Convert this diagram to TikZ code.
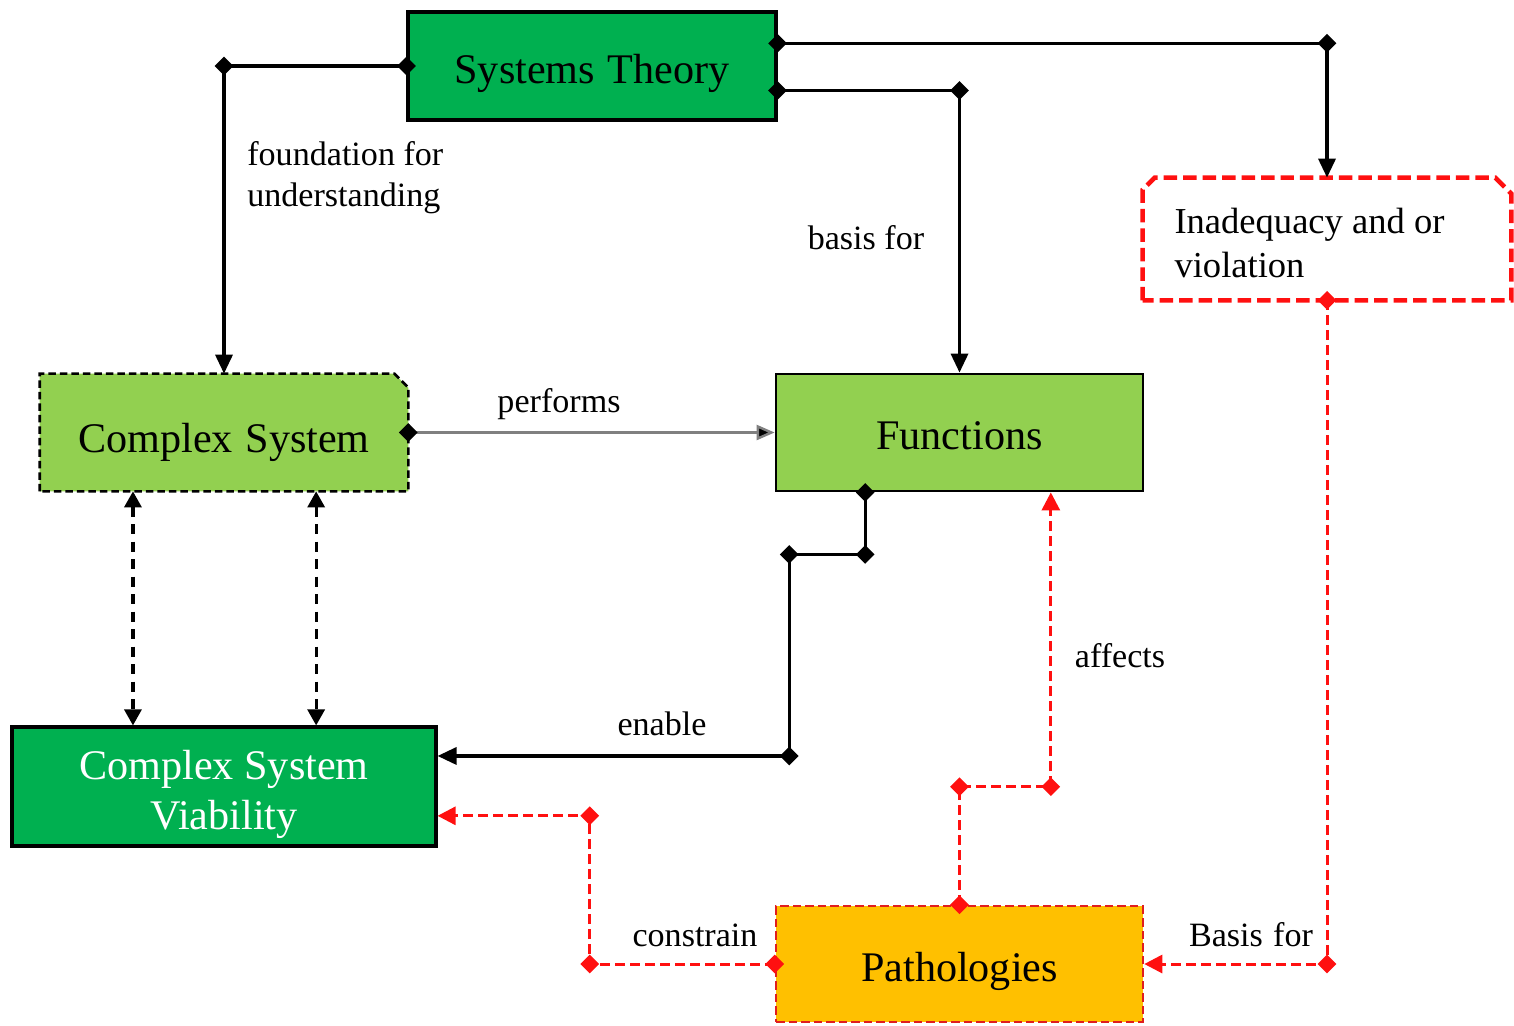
\documentclass[tikz,border=0pt]{standalone}
\usepackage{fontspec}
\setmainfont{Liberation Serif}
\usetikzlibrary{arrows.meta,shapes.geometric,calc,backgrounds}

\definecolor{deepgreen}{HTML}{00B050}
\definecolor{leafgreen}{HTML}{92D050}
\definecolor{amber}{HTML}{FFC000}
\definecolor{linkred}{HTML}{FF1010}
\definecolor{edgered}{HTML}{E01E1E}

\newcommand{\boxfont}{\fontsize{24}{28.5}\selectfont}
\newcommand{\notefont}{\fontsize{20.8}{25.6}\selectfont}
\newcommand{\labfont}{\fontsize{19.4}{23.3}\selectfont}
% lower a box's text without changing its extent
\newcommand{\lowered}[2]{\raisebox{-#1}[\height][\depth]{#2}}
\newcommand{\wsp}{\hspace{0.3em}}

\begin{document}
\begin{tikzpicture}[x=0.02cm,y=-0.02cm,
  box/.style={rectangle, inner sep=0, font=\boxfont},
  knot/.style={diamond, fill=black, draw=none, inner sep=0, minimum size=0.38cm},
  rknot/.style={knot, fill=linkred},
  link/.style={line width=1.9pt, -{Triangle[length=0.38cm,width=0.34cm]}},
  thinlink/.style={line width=1.4pt, draw=black!50, -{Triangle[length=0.36cm,width=0.3cm,fill=black]}},
  twoway/.style={line width=1.8pt, dash pattern=on 0.2cm off 0.15cm,
    {Triangle[length=0.32cm,width=0.34cm]}-{Triangle[length=0.32cm,width=0.34cm]}},
  redlink/.style={line width=1.7pt, draw=linkred, dash pattern=on 0.2cm off 0.1cm,
    -{Triangle[length=0.36cm,width=0.36cm,fill=linkred]}},
  lab/.style={font=\labfont, inner sep=0}
]
\useasboundingbox (0,0) rectangle (1514,1025);

% boxes
\node[box, fill=deepgreen, draw=black, line width=1.8pt,
      minimum width=7.36cm, minimum height=2.16cm] (st) at (592,66)
      {\lowered{0.15cm}{Systems\wsp Theory}};
\node[box, minimum width=7.36cm, minimum height=2.34cm] (cs) at (224,432.5)
      {\lowered{0.2cm}{Complex\wsp System}};
\node[box, fill=leafgreen, draw=black, line width=1.6pt,
      minimum width=7.34cm, minimum height=2.34cm] (fn) at (959.5,432.5)
      {\lowered{0.06cm}{Functions}};
\node[box, fill=deepgreen, draw=black, line width=1.8pt, text=white,
      minimum width=8.48cm, minimum height=2.38cm] (csv) at (224,786.5)
      {\lowered{0.16cm}{\begin{tabular}{@{}c@{}}Complex System\\Viability\end{tabular}}};
\node[box, font=\notefont,
      minimum width=7.36cm, minimum height=2.44cm] (inad) at (1327,239)
      {\lowered{0.08cm}{\parbox{6.1cm}{\raggedright Inadequacy and or\\violation}}};
\node[box, fill=amber, draw=edgered, line width=1.5pt, dash pattern=on 0.17cm off 0.08cm,
      minimum width=7.34cm, minimum height=2.32cm] (path) at (959.5,964)
      {\lowered{0.14cm}{Pathologies}};

% cut-corner outlines
\begin{scope}[on background layer]
  \draw[fill=leafgreen, draw=black, line width=1.5pt, dash pattern=on 0.15cm off 0.08cm]
    (cs.south west) -- (cs.north west) -- ([xshift=-0.28cm]cs.north east)
    -- ([yshift=-0.28cm]cs.north east) -- (cs.south east) -- cycle;
  \draw[draw=linkred, line width=2.6pt, dash pattern=on 0.27cm off 0.12cm]
    (inad.south west) -- ([yshift=-0.24cm]inad.north west) -- ([xshift=0.24cm]inad.north west)
    -- ([xshift=-0.32cm]inad.north east) -- ([yshift=-0.32cm]inad.north east)
    -- (inad.south east) -- cycle;
\end{scope}

% attachment and bend points
\coordinate (a1) at ($(st.north east)!0.296!(st.south east)$);
\coordinate (a2) at ($(st.north east)!0.72!(st.south east)$);
\coordinate (c1) at (cs.north |- st.west);
\coordinate (c2) at (inad.north |- a1);
\coordinate (c3) at (fn.north |- a2);
\coordinate (d1) at ($(cs.south west)!0.253!(cs.south east)$);
\coordinate (d2) at ($(cs.south west)!0.75!(cs.south east)$);
\coordinate (b1) at ($(fn.south west)!0.245!(fn.south east)$);
\coordinate (b2) at ($(b1)+(0,62)$);
\coordinate (b3) at ($(b2)+(-76,0)$);
\coordinate (e1) at ($(csv.north east)!0.25!(csv.south east)$);
\coordinate (e2) at ($(csv.north east)!0.74!(csv.south east)$);
\coordinate (b4) at (b3 |- e1);
\coordinate (f1) at ($(fn.south west)!0.747!(fn.south east)$);
\coordinate (r1) at ($(path.north)+(0,-118)$);
\coordinate (r2) at (f1 |- r1);
\coordinate (r3) at ($(path.west)+(-185,0)$);
\coordinate (r4) at (r3 |- e2);
\coordinate (r5) at (inad.south |- path.east);

% black connectors
\draw[link] (st.west) -- (c1) -- (cs.north);
\draw[link] (a1) -- (c2) -- (inad.north);
\draw[link] (a2) -- (c3) -- (fn.north);
\draw[thinlink] (cs.east) -- (fn.west);
\draw[twoway] (d1) -- (d1 |- csv.north);
\draw[twoway] (d2) -- (d2 |- csv.north);
\draw[link] (b1) -- (b2) -- (b3) -- (b4) -- (e1);

% red connectors
\draw[redlink] (path.north) -- (r1) -- (r2) -- (f1);
\draw[redlink] (path.west) -- (r3) -- (r4) -- (e2);
\draw[redlink] (inad.south) -- (r5) -- (path.east);

% junction markers
\foreach \p in {st.west, c1, a1, c2, a2, c3, cs.east, b1, b2, b3, b4}
  \node[knot] at (\p) {};
\foreach \p in {path.north, r1, r2, path.west, r3, r4, inad.south, r5}
  \node[rknot] at (\p) {};

% connector labels
\node[lab, anchor=west, align=left] (lfound) at (247,178) {foundation for\\understanding};
\node[lab] (lbasis) at (866,238) {basis for};
\node[lab] (lperf) at (559,404) {performs};
\node[lab] (lenable) at (662,724) {enable};
\node[lab] (laffect) at (1120,656) {affects};
\node[lab] (lconst) at (695,935) {constrain};
\node[lab] (lbasis2) at (1251,935) {Basis\wsp for};
\end{tikzpicture}
\end{document}
